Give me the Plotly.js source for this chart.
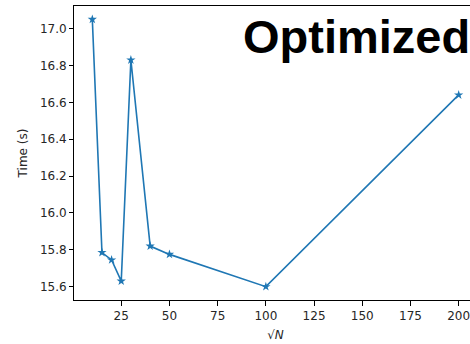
<!DOCTYPE html>
<html>
<head>
<meta charset="utf-8">
<script src="https://cdn.plot.ly/plotly-3.0.1.min.js"></script>
<style>
html,body{margin:0;padding:0;overflow:hidden;background:#fff;}
#chart{width:480px;height:344px;}
</style>
</head>
<body>
<div id="chart"></div>
<script>
// Data
var sqrtN = [10, 15, 20, 25, 30, 40, 50, 100, 200];
var timeSec = [17.05, 15.785, 15.745, 15.63, 16.83, 15.82, 15.775, 15.60, 16.64];
var yTickVals = [15.6, 15.8, 16.0, 16.2, 16.4, 16.6, 16.8, 17.0];
var xTickVals = [25, 50, 75, 100, 125, 150, 175, 200];
var titleText = "Optimized";
var xLabel = "√<i>N</i>";
var yLabel = "Time (s)";

var trace = {
  x: sqrtN,
  y: timeSec,
  type: "scatter",
  mode: "lines+markers",
  line: {color: "#1f77b4", width: 1.6},
  marker: {symbol: "star", size: 7, color: "#1f77b4"},
  hoverinfo: "none"
};

var tickFont = {family: "DejaVu Sans", size: 12, color: "#262626"};

var layout = {
  width: 480,
  height: 344,
  margin: {l: 74, r: 3, t: 6, b: 44},
  paper_bgcolor: "#fff",
  plot_bgcolor: "#fff",
  showlegend: false,
  xaxis: {
    range: [0.5, 209.5],
    tickvals: xTickVals,
    ticktext: xTickVals.map(String),
    ticks: "outside",
    ticklen: 5,
    tickwidth: 1,
    tickcolor: "#000",
    showline: true,
    linecolor: "#000",
    linewidth: 1,
    mirror: true,
    showgrid: false,
    zeroline: false,
    tickfont: tickFont,
    title: {text: xLabel, font: {family: "DejaVu Sans", size: 12, color: "#262626"}, standoff: 8}
  },
  yaxis: {
    range: [15.5275, 17.1225],
    tickvals: yTickVals,
    ticktext: yTickVals.map(function(v){return v.toFixed(1);}),
    ticks: "outside",
    ticklen: 4,
    tickwidth: 1,
    tickcolor: "#000",
    showline: true,
    linecolor: "#000",
    linewidth: 1,
    mirror: true,
    showgrid: false,
    zeroline: false,
    tickfont: tickFont,
    title: {text: yLabel, font: {family: "DejaVu Sans", size: 12, color: "#262626"}, standoff: 9}
  },
  annotations: [{
    text: "<b>" + titleText + "</b>",
    xref: "paper", yref: "paper",
    x: 0.414, y: 0.897,
    xanchor: "left", yanchor: "middle",
    showarrow: false,
    font: {family: "Liberation Sans", size: 47, color: "#000"}
  }]
};

Plotly.newPlot("chart", [trace], layout, {staticPlot: true, displayModeBar: false});
</script>
</body>
</html>
